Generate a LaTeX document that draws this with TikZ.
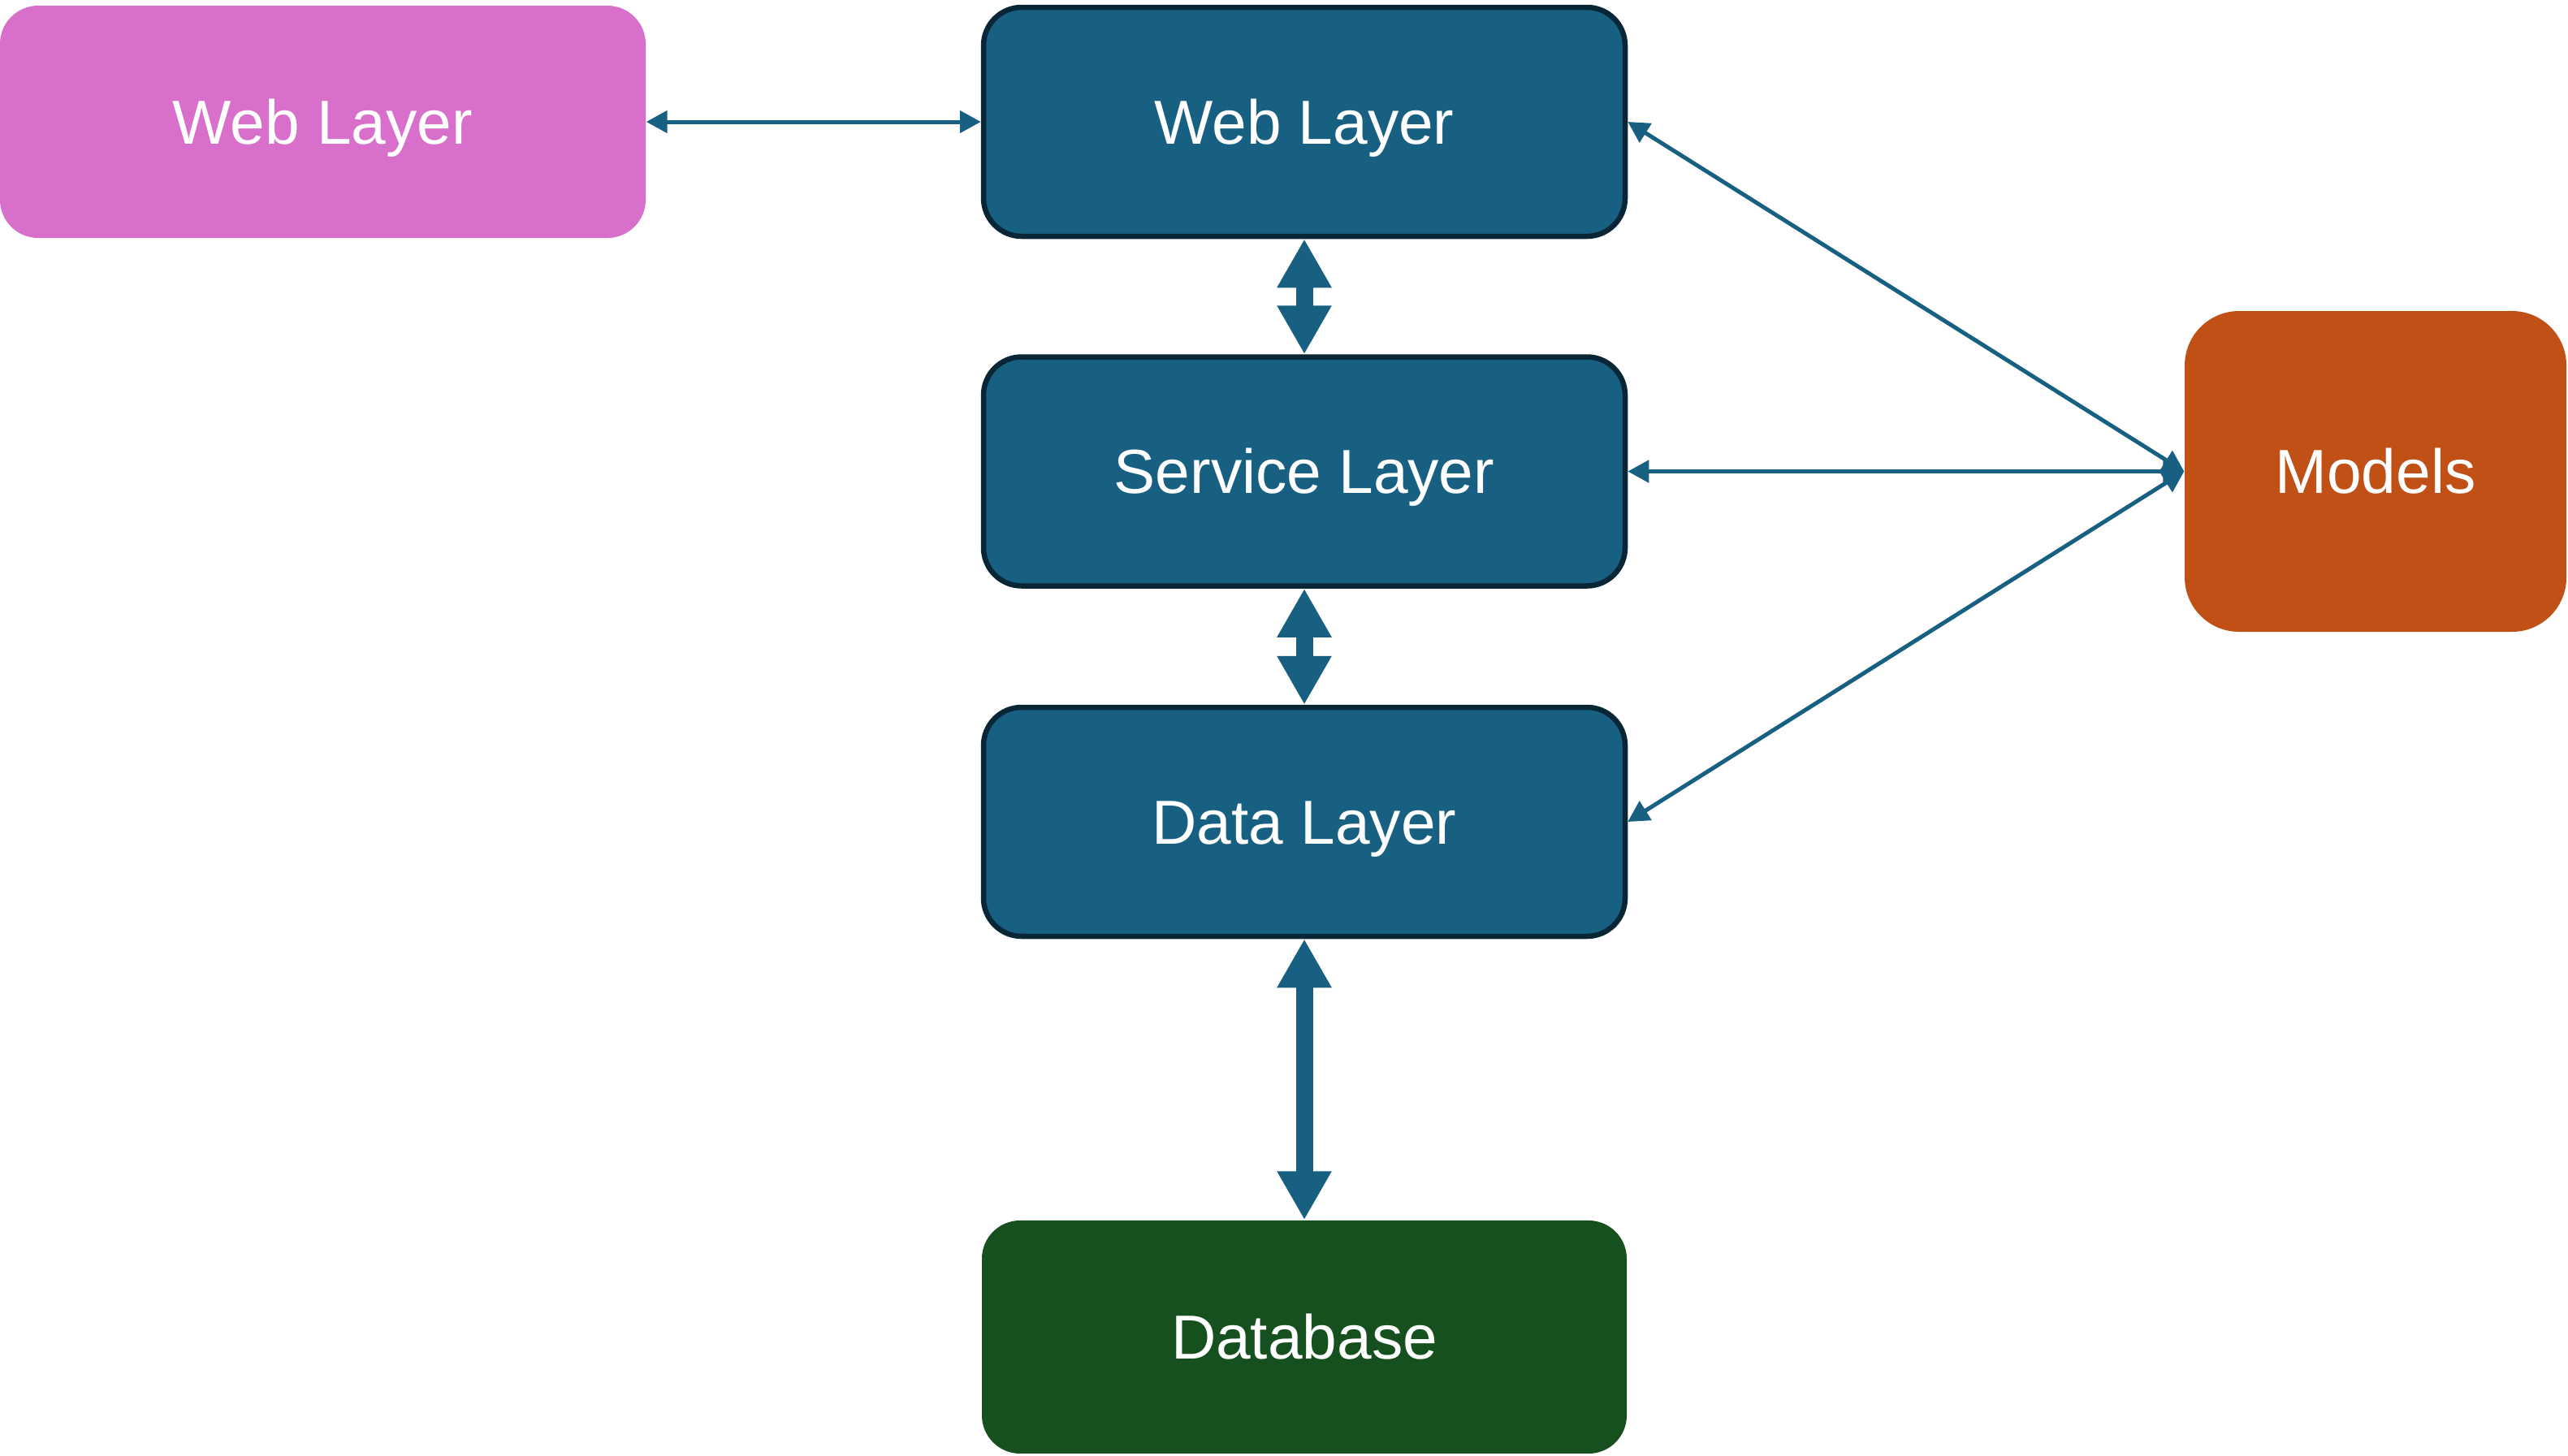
\documentclass[tikz,border=0pt]{standalone}
\usepackage{fontspec}
\setmainfont{Liberation Sans}
\usetikzlibrary{positioning}
\usetikzlibrary{arrows.meta}

\definecolor{layerblue}{RGB}{24,96,130}
\definecolor{layerline}{RGB}{8,38,54}
\definecolor{webpink}{RGB}{215,111,203}
\definecolor{modelorange}{RGB}{192,80,22}
\definecolor{dbgreen}{RGB}{22,80,30}

\tikzset{
  box/.style={rounded corners=0.47cm, text=white, align=center,
    font=\fontsize{21.8}{26}\selectfont, inner sep=0pt,
    text height=15.6pt, text depth=0pt},
  layer/.style={box, fill=layerblue, draw=layerline, line width=0.065cm,
    minimum width=7.9cm, minimum height=2.82cm},
  thinarrow/.style={layerblue, line width=0.05cm,
    {Triangle[width=0.27cm,length=0.26cm]}-{Triangle[width=0.27cm,length=0.26cm]}},
  thickarrow/.style={layerblue, line width=0.21cm,
    {Triangle[width=0.63cm,length=0.6cm]}-{Triangle[width=0.63cm,length=0.6cm]}}
}

\begin{document}
\begin{tikzpicture}
\useasboundingbox (0,0) rectangle (31.62,-17.92);

% the layer stack
\node[layer] (web) at (16.06,-1.50) {Web Layer};
\node[layer, below=1.42cm of web] (service) {Service Layer};
\node[layer, below=1.43cm of service] (data) {Data Layer};
\node[box, fill=dbgreen, minimum width=7.94cm, minimum height=2.87cm,
  below=3.46cm of data] (database) {Database};

\coordinate (mcol) at (29.25,0);
\node[box, fill=webpink, minimum width=7.95cm, minimum height=2.86cm] (pinkweb) at (3.975,-1.50) {Web Layer};
\node[box, fill=modelorange, rounded corners=0.67cm, minimum width=4.70cm,
  minimum height=3.95cm] (models) at (service -| mcol) {Models};

\draw[thinarrow] (pinkweb.east) -- (web.west);

\draw[thickarrow] (web) -- (service);
\draw[thickarrow] (service) -- (data);
\draw[thickarrow] (data) -- (database);

% models are shared by all layers
\draw[thinarrow] (models.west) -- (web.east);
\draw[thinarrow] (models.west) -- (service.east);
\draw[thinarrow] (models.west) -- (data.east);

\end{tikzpicture}
\end{document}
